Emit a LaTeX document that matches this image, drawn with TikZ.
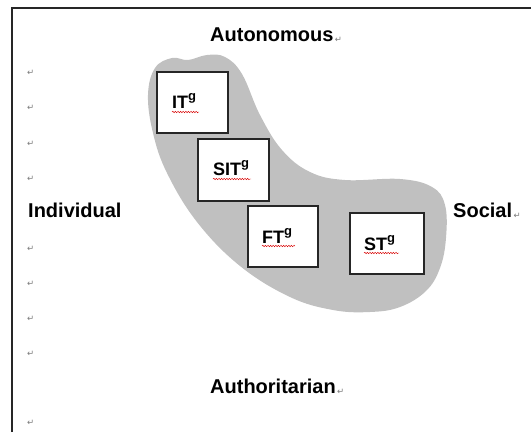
\documentclass[tikz,border=0pt]{standalone}
\usepackage{fontspec}
\setmainfont{Liberation Sans}
\newfontfamily\markfont{DejaVu Sans}
\usetikzlibrary{decorations.pathmorphing,calc}
\definecolor{blobgray}{HTML}{C0C0C0}
\definecolor{markgray}{HTML}{7A7A7A}
\newcommand\supg{\raisebox{8pt}{\fontsize{13}{13}\selectfont g}}
\tikzset{
  axislbl/.style={font=\fontsize{20}{24}\selectfont\bfseries, inner sep=0pt, anchor=base west},
  tbox/.style={draw=black!85, line width=1.5pt, fill=white, rectangle, inner sep=0pt},
  tlbl/.style={font=\fontsize{18}{22}\selectfont\bfseries, inner sep=0pt, anchor=base west},
  wavy/.style={draw=red!85!black, line width=0.45pt, decorate,
    decoration={snake, amplitude=0.7pt, segment length=2.6pt}},
  pmark/.style={font=\markfont\fontsize{8.5}{8.5}\selectfont, text=markgray, inner sep=0pt, anchor=base west}
}
\begin{document}
\begin{tikzpicture}[x=1pt,y=-1pt]
\useasboundingbox (0,0) rectangle (531,432);
% page frame (left and top edges)
\draw[line width=2pt, black!85] (11.5,432) -- (11.5,7.5) -- (531,7.5);

% shaded region
\fill[blobgray] plot[smooth cycle, tension=0.65] coordinates {
  (155,68) (172,58) (188,60) (207,55) (225,57) (242,74) (260,115)
  (282,150) (310,172) (345,180) (400,179) (432,187) (445,205)
  (446,238) (440,268) (426,291) (400,307) (370,312) (333,310)
  (290,297) (240,266) (197,222) (167,173) (153,133) (148,95)};

% boxes
\node[tbox, minimum width=71pt, minimum height=61pt] (it)  at (192.5,102.5) {};
\node[tbox, minimum width=71pt, minimum height=62pt] (sit) at (233.5,170) {};
\node[tbox, minimum width=70pt, minimum height=61pt] (ft)  at (283,236.5) {};
\node[tbox, minimum width=74pt, minimum height=61pt] (st)  at (387,243.5) {};

% box labels
\node[tlbl] (itl)  at (172,108) {IT\supg};
\node[tlbl] (sitl) at (213,175) {SIT\supg};
\node[tlbl] (ftl)  at (262,243) {FT\supg};
\node[tlbl] (stl)  at (364,250) {ST\supg};

% spell-check underlines
\draw[wavy] ($(itl.base west)+(0,4)$) -- ++(27,0);
\draw[wavy] ($(sitl.base west)+(0,4)$) -- ++(38,0);
\draw[wavy] ($(ftl.base west)+(0,3)$) -- ++(33,0);
\draw[wavy] ($(stl.base west)+(0,3)$) -- ++(35,0);

% axis labels
\node[axislbl] (auto) at (210,41) {Autonomous};
\node[axislbl] (auth) at (210,393) {Authoritarian};
\node[axislbl] (indiv) at (28,217) {Individual};
\node[axislbl] (soc) at (453,217) {Social};

% paragraph marks
\node[pmark] (pa) at ($(auto.base east)+(1,1)$) {↵};
\node[pmark] (pb) at ($(auth.base east)+(1,1)$) {↵};
\node[pmark] (pc) at ($(soc.base east)+(1,1)$) {↵};
\foreach \yy/\nm in {75/p1,110/p2,146/p3,181/p4,251/p5,286/p6,321/p7,356/p8,425/p9}
  \node[pmark] (\nm) at (27,\yy) {↵};
\end{tikzpicture}
\end{document}
